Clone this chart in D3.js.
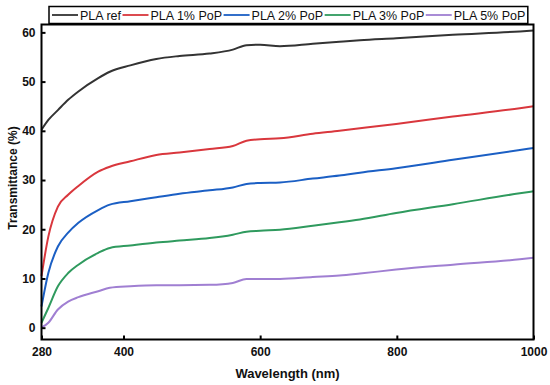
<!DOCTYPE html>
<html>
<head>
<meta charset="utf-8">
<script src="https://cdn.jsdelivr.net/npm/d3@7"></script>
<style>
  body { margin: 0; background: #fff; }
  text { font-family: Arial, "Liberation Sans", sans-serif; }
</style>
</head>
<body>
<div id="viz-container"></div>
<script>
// wavelengths (nm)
let wavelength = [280, 290, 304, 319, 334, 363, 380, 410, 448, 482, 526, 560, 580, 600, 629, 677, 716, 746, 799, 882, 980, 1000];

// transmittance (%) per sample
let plaRef = [40.2, 42.2, 44.2, 46.3, 48.0, 50.7, 52.0, 53.3, 54.6, 55.2, 55.7, 56.5, 57.4, 57.5, 57.2, 57.7, 58.1, 58.4, 58.8, 59.5, 60.2, 60.4];
let pla1 = [10.5, 18.5, 24.6, 27.0, 28.8, 31.7, 32.7, 33.8, 35.1, 35.6, 36.3, 36.9, 38.0, 38.3, 38.5, 39.4, 40.0, 40.5, 41.4, 42.9, 44.6, 45.0];
let pla2 = [4.3, 11.1, 16.5, 19.3, 21.3, 23.9, 25.0, 25.7, 26.5, 27.2, 27.9, 28.5, 29.2, 29.4, 29.5, 30.3, 30.9, 31.5, 32.4, 34.1, 36.1, 36.5];
let pla3 = [1.0, 4.0, 8.4, 11.1, 12.8, 15.2, 16.2, 16.7, 17.3, 17.7, 18.2, 18.9, 19.5, 19.7, 19.9, 20.7, 21.4, 22.0, 23.3, 25.1, 27.3, 27.7];
let pla5 = [0.0, 1.0, 3.7, 5.3, 6.2, 7.4, 8.1, 8.4, 8.6, 8.6, 8.7, 9.1, 9.9, 9.9, 9.9, 10.3, 10.6, 11.0, 11.8, 12.8, 13.9, 14.2];

let seriesNames = ["PLA ref", "PLA 1% PoP", "PLA 2% PoP", "PLA 3% PoP", "PLA 5% PoP"];
let seriesValues = [plaRef, pla1, pla2, pla3, pla5];
let seriesColors = ["#333333", "#d9373d", "#1b5fc4", "#2f9a5e", "#a07fd2"];

let xTicks = [280, 400, 600, 800, 1000];
let yTicks = [0, 10, 20, 30, 40, 50, 60];

let viz = d3.select("#viz-container")
    .append("svg")
        .attr("width", 550)
        .attr("height", 385)
;

let mLeft = 41.5, mRight = 533.5, mTop = 24.5, mBottom = 339.5;

let x = d3.scaleLinear().domain([280, 1000]).range([mLeft, mRight]);
let y = d3.scaleLinear().domain([-2.4, 61.6]).range([mBottom, mTop]);

// lines
let line = d3.line()
    .x(d => x(d[0]))
    .y(d => y(d[1]))
    .curve(d3.curveMonotoneX);

viz.selectAll(".series").data(seriesValues).enter()
    .append("path")
        .attr("class", "series")
        .attr("fill", "none")
        .attr("stroke", (d, i) => seriesColors[i])
        .attr("stroke-width", 2)
        .attr("d", vals => line(vals.map((v, j) => [wavelength[j], v])))
;

// axes (ticks inward)
let xAxis = viz.append("g")
    .attr("transform", `translate(0,${mBottom})`)
    .call(d3.axisBottom(x).tickValues(xTicks).tickFormat(d3.format("d"))
        .tickSizeInner(-4).tickSizeOuter(0).tickPadding(8));
let yAxis = viz.append("g")
    .attr("transform", `translate(${mLeft},0)`)
    .call(d3.axisLeft(y).tickValues(yTicks).tickSizeInner(-4).tickSizeOuter(0).tickPadding(6));

[xAxis, yAxis].forEach(a => {
    a.select(".domain").remove();
    a.selectAll(".tick line").attr("stroke", "#000").attr("stroke-width", 2);
    a.selectAll(".tick text")
        .attr("font-size", 12)
        .attr("font-weight", "bold")
        .attr("fill", "#111")
        .style("font-family", "Arial, 'Liberation Sans', sans-serif");
});

// frame
viz.append("rect")
    .attr("x", mLeft)
    .attr("y", mTop)
    .attr("width", mRight - mLeft)
    .attr("height", mBottom - mTop)
    .attr("fill", "none")
    .attr("stroke", "#000")
    .attr("stroke-width", 2)
;

// axis titles
viz.append("text")
    .attr("x", (mLeft + mRight) / 2)
    .attr("y", 378)
    .attr("text-anchor", "middle")
    .attr("font-size", 13)
    .attr("font-weight", "bold")
    .attr("fill", "#111")
    .text("Wavelength (nm)")
;
viz.append("text")
    .attr("transform", "translate(17,178) rotate(-90)")
    .attr("text-anchor", "middle")
    .attr("font-size", 12)
    .attr("font-weight", "bold")
    .attr("fill", "#111")
    .text("Transmittance (%)")
;

// legend
let legend = viz.append("g");
let legendBox = legend.append("rect")
    .attr("x", 49)
    .attr("y", 6.5)
    .attr("height", 17)
    .attr("fill", "#fff")
    .attr("stroke", "#000")
    .attr("stroke-width", 1.5)
;
let cx = 52;
seriesNames.forEach((name, i) => {
    legend.append("line")
        .attr("x1", cx).attr("x2", cx + 26)
        .attr("y1", 15).attr("y2", 15)
        .attr("stroke", seriesColors[i])
        .attr("stroke-width", 1.8);
    let t = legend.append("text")
        .attr("x", cx + 28)
        .attr("y", 19.5)
        .attr("font-size", 12.5)
        .attr("fill", "#111")
        .text(name);
    cx += 28 + t.node().getComputedTextLength() + 1.5;
});
legendBox.attr("width", cx - 49 + 1);
</script>
</body>
</html>
